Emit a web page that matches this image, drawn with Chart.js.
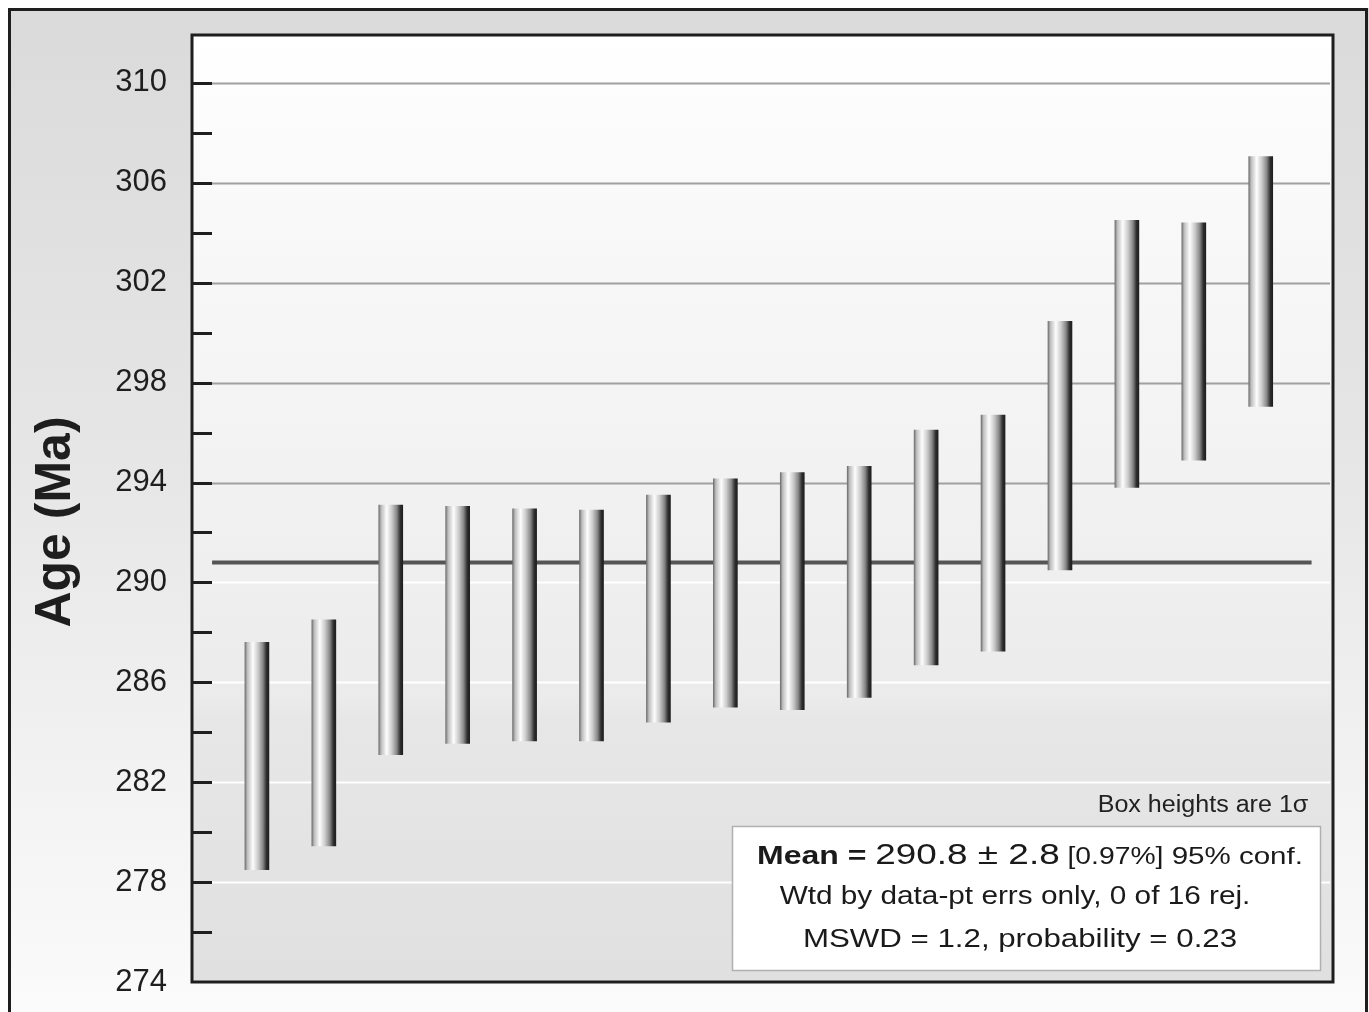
<!DOCTYPE html>
<html>
<head>
<meta charset="utf-8">
<script src="https://cdn.jsdelivr.net/npm/chart.js@4.4.1/dist/chart.umd.min.js"></script>
<style>
  html, body { margin: 0; padding: 0; background: #fff; }
  #wrap { width: 1369px; height: 1012px; position: relative; }
</style>
</head>
<body>
<div id="wrap"><canvas id="ages"></canvas></div>
<script>
// Weighted mean plot --------------------------------------------------------------------------
// 16 analyses, box = age +/- 1 sigma (Ma)
const sampleNo = [1, 2, 3, 4, 5, 6, 7, 8, 9, 10, 11, 12, 13, 14, 15, 16];
const boxLow  = [278.5, 279.45, 283.1, 283.55, 283.65, 283.65, 284.4, 285.0, 284.9, 285.4, 286.7, 287.25, 290.5, 293.8, 294.9, 297.05];
const boxHigh = [287.6, 288.5, 293.1, 293.05, 292.95, 292.9, 293.5, 294.15, 294.4, 294.65, 296.1, 296.7, 300.45, 304.5, 304.4, 307.05];
const meanAge = 290.8;
const meanSpan = [0.33, 16.76];      // x extent of the mean line (sample units)
const yTickStep = 2;                  // minor ticks, labelled every 4
const yLabelStart = 274;

const bars = sampleNo.map((n, i) => ({ x: n, y: [boxLow[i], boxHigh[i]] }));
const meanLine = meanSpan.map(x => ({ x: x, y: meanAge }));

const FONT = '"Liberation Sans", Arial, sans-serif';

// cylinder look for each box
function barFill(ctx) {
  const chart = ctx.chart;
  const xs = chart.scales.x;
  if (!xs || !ctx.raw) return '#bbb';
  const cx = xs.getPixelForValue(ctx.raw.x);
  if (!isFinite(cx)) return '#bbb';
  const g = chart.ctx.createLinearGradient(cx - 12, 0, cx + 12, 0);
  g.addColorStop(0, '#707070');
  g.addColorStop(0.1, '#bdbdbd');
  g.addColorStop(0.33, '#fdfdfd');
  g.addColorStop(0.55, '#cacaca');
  g.addColorStop(0.75, '#878787');
  g.addColorStop(0.9, '#2e2e2e');
  g.addColorStop(1, '#1e1e1e');
  return g;
}

// backgrounds, frame, grid and inside tick marks
const frame = {
  id: 'frame',
  beforeDraw(chart) {
    const { ctx, width, height, chartArea: a } = chart;
    if (!a) return;
    ctx.save();
    let g = ctx.createLinearGradient(0, 0, 0, height);
    g.addColorStop(0, '#dadada');
    g.addColorStop(0.45, '#e6e6e6');
    g.addColorStop(1, '#fbfbfb');
    ctx.fillStyle = g;
    ctx.fillRect(0, 0, width, height);
    ctx.fillStyle = '#fff';
    ctx.fillRect(0, 0, width, 8);
    ctx.fillRect(0, 0, 8, height);
    ctx.strokeStyle = '#1e1e1e';
    ctx.lineWidth = 3;
    ctx.strokeRect(9.5, 9.5, width - 12, height + 20);

    g = ctx.createLinearGradient(0, a.top, 0, a.bottom);
    g.addColorStop(0, '#ffffff');
    g.addColorStop(0.08, '#fcfcfc');
    g.addColorStop(0.3, '#f6f6f6');
    g.addColorStop(0.5, '#f1f1f1');
    g.addColorStop(0.7, '#ebebeb');
    g.addColorStop(0.72, '#e7e7e7');
    g.addColorStop(1, '#e0e0e0');
    ctx.fillStyle = g;
    ctx.fillRect(a.left, a.top, a.right - a.left, a.bottom - a.top);
    ctx.restore();
  },
  beforeDatasetsDraw(chart) {
    const { ctx, chartArea: a, scales: { y } } = chart;
    ctx.save();
    y.ticks.forEach(t => {
      const py = Math.round(y.getPixelForValue(t.value)) + 0.5;
      if ((t.value - yLabelStart) % 4 === 0 && t.value > y.min && t.value < y.max) {
        ctx.strokeStyle = t.value > 292 ? '#a0a0a0' : '#ffffff';
        ctx.lineWidth = 2;
        ctx.beginPath();
        ctx.moveTo(a.left + 19, py);
        ctx.lineTo(a.right - 3, py);
        ctx.stroke();
      }
    });
    ctx.restore();
  },
  afterDatasetsDraw(chart) {
    const { ctx, chartArea: a, scales: { y } } = chart;
    ctx.save();
    ctx.strokeStyle = '#1e1e1e';
    ctx.lineWidth = 3;
    y.ticks.forEach(t => {
      if (t.value <= y.min || t.value >= y.max) return;
      const py = Math.round(y.getPixelForValue(t.value)) + 0.5;
      ctx.beginPath();
      ctx.moveTo(a.left, py);
      ctx.lineTo(a.left + 20, py);
      ctx.stroke();
    });
    ctx.strokeRect(a.left, a.top, a.right - a.left, a.bottom - a.top);

    // axis title, sits a little below the axis centre in the original
    ctx.translate(56, 522);
    ctx.rotate(-Math.PI / 2);
    ctx.textAlign = 'center';
    ctx.textBaseline = 'middle';
    ctx.fillStyle = '#1e1e1e';
    ctx.font = 'bold 50px ' + FONT;
    ctx.fillText('Age (Ma)', 0, 0);
    ctx.restore();
  }
};

// one line of text, stretched sideways like the source figure
function wideText(ctx, parts, cx, base, sx) {
  let total = 0;
  parts.forEach(p => { ctx.font = p[1]; total += ctx.measureText(p[0]).width; });
  ctx.save();
  ctx.translate(cx, base);
  ctx.scale(sx, 1);
  ctx.textAlign = 'left';
  let x = -total / 2;
  parts.forEach(p => {
    ctx.font = p[1];
    ctx.fillText(p[0], x, 0);
    x += ctx.measureText(p[0]).width;
  });
  ctx.restore();
}

// statistics box bottom right
const statsBox = {
  id: 'statsBox',
  afterDraw(chart) {
    const { ctx } = chart;
    ctx.save();
    ctx.fillStyle = '#222';
    ctx.textBaseline = 'alphabetic';
    wideText(ctx, [['Box heights are 1\u03c3', '23px ' + FONT]], 1203, 812, 1.09);

    ctx.fillStyle = '#fff';
    ctx.fillRect(732, 826, 588, 144);
    ctx.strokeStyle = '#b0b0b0';
    ctx.lineWidth = 1.5;
    ctx.strokeRect(732.5, 826.5, 588, 144);

    ctx.fillStyle = '#1a1a1a';
    wideText(ctx, [
      ['Mean = ', 'bold 26px ' + FONT],
      ['290.8 \u00b1 2.8', '30px ' + FONT],
      [' [0.97%]', '23px ' + FONT],
      [' 95% conf.', '24px ' + FONT]
    ], 1030, 864, 1.23);
    wideText(ctx, [['Wtd by data-pt errs only, 0 of 16 rej.', '25px ' + FONT]], 1015, 904, 1.19);
    wideText(ctx, [['MSWD = 1.2, probability = 0.23', '25px ' + FONT]], 1020, 947, 1.25);
    ctx.restore();
  }
};

const chart = new Chart(document.getElementById('ages'), {
  type: 'bar',
  data: {
    datasets: [{
      type: 'bar',
      data: bars,
      backgroundColor: barFill,
      borderWidth: 0,
      barThickness: 24,
      order: 0
    }, {
      type: 'line',
      data: meanLine,
      borderColor: '#555555',
      borderWidth: 4,
      pointRadius: 0,
      order: 1
    }]
  },
  options: {
    responsive: true,
    maintainAspectRatio: false,
    animation: false,
    layout: { padding: { top: 35, right: 36, bottom: 30, left: 0 } },
    plugins: { legend: { display: false }, tooltip: { enabled: false } },
    scales: {
      x: {
        type: 'linear',
        display: false,
        min: 0.03,
        max: 17.08,
        offset: false
      },
      y: {
        min: 274,
        max: 311.92,
        border: { display: false },
        grid: { display: false, drawTicks: false },
        afterFit(s) {
          s.width = 192;
          s.paddingTop = 0;
          s.paddingBottom = 0;
        },
        afterBuildTicks(s) {
          s.ticks = s.ticks.filter(t => Number.isInteger(t.value) && t.value % 2 === 0);
        },
        ticks: {
          stepSize: yTickStep,
          padding: 25,
          color: '#1e1e1e',
          font: { family: FONT, size: 31 },
          callback: v => ((v - yLabelStart) % 4 === 0 ? String(v) : '')
        }
      }
    }
  },
  plugins: [frame, statsBox]
});
</script>
</body>
</html>
